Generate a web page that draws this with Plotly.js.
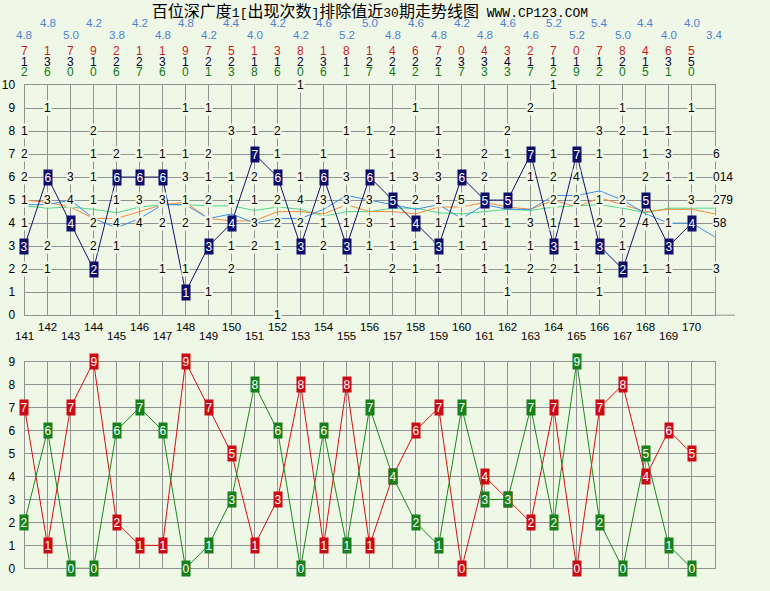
<!DOCTYPE html>
<html><head><meta charset="utf-8">
<script src="https://cdn.plot.ly/plotly-3.0.1.min.js"></script>
<style>html,body{margin:0;padding:0;background:#eff7e7;}#chart{width:770px;height:591px;}</style>
</head><body><div id="chart"></div>
<script>
// ---------- data ----------
const periods = [141,142,143,144,145,146,147,148,149,150,151,152,153,154,155,156,157,158,159,160,161,162,163,164,165,166,167,168,169,170];
const extPeriods = [141,142,143,144,145,146,147,148,149,150,151,152,153,154,155,156,157,158,159,160,161,162,163,164,165,166,167,168,169,170,171];
const mainVals = [3,6,4,2,6,6,6,1,3,4,7,6,3,6,3,6,5,4,3,6,5,5,7,3,7,3,2,5,3,4];
const avg5 = [4.8,4.8,5.0,4.2,3.8,4.2,4.8,4.8,4.2,4.4,4.0,4.2,4.2,4.6,5.2,5.0,4.8,4.6,4.8,4.2,4.8,4.6,4.6,5.2,5.2,5.4,5.0,4.4,4.0,4.0,3.4];
const avg10 = [5.0,4.9,4.7,4.2,4.2,4.5,4.8,4.9,4.2,4.1,4.1,4.5,4.5,4.4,4.8,4.5,4.5,4.4,4.7,4.7,4.9,4.7,4.6,5.0,4.7,5.1,4.8,4.5,4.6,4.6,4.4];
const avg20 = [4.75,4.65,4.7,4.6,4.45,4.7,4.8,4.8,4.75,4.75,4.55,4.7,4.6,4.3,4.5,4.5,4.65,4.65,4.45,4.4,4.5,4.6,4.55,4.7,4.75,4.8,4.65,4.45,4.65,4.65,4.65];
const redVals = [7,1,7,9,2,1,1,9,7,5,1,3,8,1,8,1,4,6,7,0,4,3,2,7,0,7,8,4,6,5];
const midVals = [1,3,3,1,2,2,3,1,2,2,1,1,2,3,1,2,2,2,2,3,3,4,1,1,1,1,2,1,3,5];
const greenVals = [2,6,0,0,6,7,6,0,1,3,8,6,0,6,1,7,4,2,1,7,3,3,7,2,9,2,0,5,1,0];
// small counts in the upper grid: "level:text" per period 141..171
const countCols = [
 "8:1 7:2 6:2 5:1 4:1 2:2",
 "9:1 5:3 3:2 2:1",
 "6:3 5:4",
 "8:2 7:1 6:1 5:1 4:2 3:2",
 "7:2 5:1 4:4 3:1",
 "7:1 5:3 4:4",
 "7:1 5:3 4:2 2:1",
 "9:1 7:1 6:3 5:1 4:2 2:1",
 "9:1 7:2 6:1 5:2 4:1 1:1",
 "8:3 6:1 5:1 3:1 2:2",
 "8:1 6:2 5:1 4:3 3:2",
 "8:2 7:1 5:2 4:2 3:1 0:1",
 "10:1 6:1 5:4 4:2",
 "7:1 5:3 4:1 3:2",
 "8:1 6:3 5:3 4:1 2:1",
 "8:1 5:3 4:3 3:1",
 "8:2 7:1 6:1 4:1 3:1 2:2",
 "9:1 6:3 5:2 3:1 2:1",
 "8:1 7:1 6:3 5:1 4:1 2:1",
 "5:5 4:1 3:1",
 "7:2 6:2 4:1 3:1 2:1",
 "8:2 7:1 4:1 2:1 1:1",
 "9:2 6:1 4:3 3:1 2:2",
 "10:1 7:1 6:2 5:2 4:1 2:2",
 "6:4 5:2 4:1 3:1 2:1",
 "8:3 7:1 5:1 4:2 2:1 1:1",
 "9:1 8:2 5:2 4:2 3:1",
 "8:1 7:1 6:2 4:4 2:1",
 "8:1 7:3 6:1 4:1 2:1",
 "9:1 6:1 5:3",
 "7:6 6:014 5:279 4:58 2:3"
];
const topLevels = [0,1,2,3,4,5,6,7,8,9,10];
const bottomLevels = [0,1,2,3,4,5,6,7,8,9];
const titleText = '百位深广度<span style="font-family:Liberation Mono;font-size:13px">1[</span>出现次数<span style="font-family:Liberation Mono;font-size:13px">]</span>排除值近<span style="font-family:Liberation Mono;font-size:13px">30</span>期走势线图<span style="font-family:Liberation Mono;font-size:13px"> WWW.CP123.COM</span>';

// ---------- style ----------
const W = 770, H = 591;
const BG = '#eff7e7', GRID = '#929292';
const FONT = 'Liberation Sans, Arial, sans-serif';
const py = px => 1 - px / H;

const ann = [];
function txt(x, xref, y, yref, text, o) {
  ann.push(Object.assign({x:x, y:y, xref:xref, yref:yref, text:String(text), showarrow:false,
    xanchor:'center', yanchor:'middle', font:{family:FONT, size:12, color:'#000'}}, o || {}));
}

// header rows
extPeriods.forEach((p, i) => {
  txt(p, 'x', py(i % 2 === 0 ? 34.5 : 22.5), 'paper', avg5[i].toFixed(1), {font:{family:FONT,size:11.5,color:'#4f7fd4'}});
});
periods.forEach((p, i) => {
  txt(p, 'x', py(51), 'paper', redVals[i], {font:{family:FONT,size:12,color:'#c81e1e'}});
  txt(p, 'x', py(61.5), 'paper', midVals[i], {font:{family:FONT,size:12,color:'#000030'}});
  txt(p, 'x', py(71.5), 'paper', greenVals[i], {font:{family:FONT,size:12,color:'#0e7a0e'}});
  txt(p, 'x', py(i % 2 === 0 ? 336 : 327), 'paper', p, {font:{family:FONT,size:11.5,color:'#000'}});
});

// counts
countCols.forEach((col, i) => {
  col.split(' ').forEach(item => {
    const [lvl, t] = item.split(':');
    const p = extPeriods[i];
    if (p === 171) {
      txt(p, 'x', +lvl, 'y', t, {xanchor:'left', xshift:-3, bgcolor:BG, borderpad:0});
    } else {
      txt(p, 'x', +lvl, 'y', t, {bgcolor:BG, borderpad:0});
    }
  });
});

// boxes
periods.forEach((p, i) => {
  txt(p, 'x', mainVals[i], 'y', mainVals[i], {bgcolor:'#0d0d6b', borderpad:0.5, font:{family:FONT,size:12,color:'#fff'}});
});
periods.forEach((p, i) => {
  txt(p, 'x2', redVals[i], 'y2', redVals[i], {bgcolor:'#cc0a14', borderpad:0.5, font:{family:FONT,size:12,color:'#fff'}});
});
periods.forEach((p, i) => {
  txt(p, 'x2', greenVals[i], 'y2', greenVals[i], {bgcolor:'#17801a', borderpad:0.5, font:{family:FONT,size:12,color:'#fff'}});
});

const traces = [
  {x:extPeriods, y:avg20, xaxis:'x', yaxis:'y', mode:'lines', line:{color:'#52d68a', width:1}, cliponaxis:false, hoverinfo:'skip'},
  {x:extPeriods, y:avg10, xaxis:'x', yaxis:'y', mode:'lines', line:{color:'#f58a3c', width:1}, cliponaxis:false, hoverinfo:'skip'},
  {x:extPeriods, y:avg5, xaxis:'x', yaxis:'y', mode:'lines', line:{color:'#3f8ee6', width:1}, cliponaxis:false, hoverinfo:'skip'},
  {x:periods, y:mainVals, xaxis:'x', yaxis:'y', mode:'lines', line:{color:'#10106a', width:1}, cliponaxis:false, hoverinfo:'skip'},
  {x:periods, y:redVals, xaxis:'x2', yaxis:'y2', mode:'lines', line:{color:'#d41010', width:1}, cliponaxis:false, hoverinfo:'skip'},
  {x:periods, y:greenVals, xaxis:'x2', yaxis:'y2', mode:'lines', line:{color:'#1a8a1a', width:1}, cliponaxis:false, hoverinfo:'skip'}
];

const xCommon = {domain:[24.5/W, 714.8/W], range:[141,171], tickvals:extPeriods, showticklabels:false, ticks:'',
  showgrid:true, gridcolor:GRID, gridwidth:1, zeroline:false, showline:true, mirror:true, linecolor:GRID, linewidth:1, fixedrange:true};
const yCommon = {tickfont:{family:FONT, size:12, color:'#000'}, ticks:'', ticklabelstandoff:6,
  showgrid:true, gridcolor:GRID, gridwidth:1, zeroline:false, showline:true, mirror:true, linecolor:GRID, linewidth:1, fixedrange:true};

const layout = {
  width:W, height:H, margin:{l:0,r:0,t:0,b:0,pad:0}, paper_bgcolor:BG, plot_bgcolor:BG, showlegend:false,
  title:{text:titleText, x:370/W, y:1-11.5/H, xanchor:'center', yanchor:'middle', font:{family:'Noto Sans CJK SC, sans-serif', size:16, color:'#000'}},
  xaxis:Object.assign({}, xCommon, {anchor:'y'}),
  yaxis:Object.assign({}, yCommon, {domain:[(H-315.2)/H, (H-85)/H], range:[0,10], tickvals:topLevels, anchor:'x'}),
  xaxis2:Object.assign({}, xCommon, {anchor:'y2'}),
  yaxis2:Object.assign({}, yCommon, {domain:[(H-568.3)/H, (H-361.7)/H], range:[0,9], tickvals:bottomLevels, anchor:'x2'}),
  shapes:[{type:'line', xref:'paper', yref:'paper', x0:714.8/W, x1:735/W, y0:py(315.2), y1:py(315.2), line:{color:GRID, width:1}}],
  annotations:ann
};

Plotly.newPlot('chart', traces, layout, {displayModeBar:false, staticPlot:true});
</script>
</body></html>
